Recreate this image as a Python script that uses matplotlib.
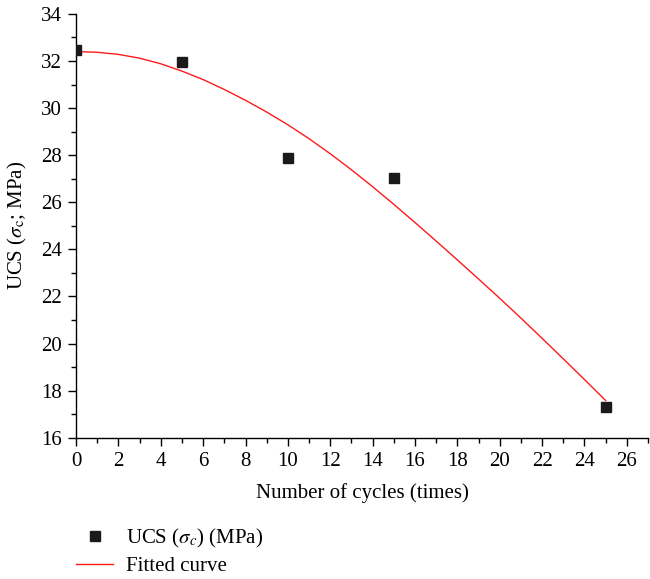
import matplotlib
matplotlib.use("Agg")
import matplotlib.pyplot as plt
from matplotlib.ticker import MultipleLocator

plt.rcParams['font.family'] = ['Liberation Serif', 'DejaVu Serif']
plt.rcParams['mathtext.fontset'] = 'stix'

# --- datos medidos ---
cycles = [0, 5, 10, 15, 25]
ucs = [32.45, 31.95, 27.9, 27.05, 17.3]

# curva ajustada
fit_x = [0, 1, 2, 3, 4, 5, 6, 7, 8, 9, 10, 11, 12, 13, 14, 15, 16, 17, 18,
         19, 20, 21, 22, 23, 24, 25]
fit_y = [32.40, 32.37, 32.28, 32.12, 31.88, 31.57, 31.21, 30.79, 30.33, 29.83,
         29.29, 28.70, 28.06, 27.38, 26.66, 25.91, 25.14, 24.35, 23.55, 22.74,
         21.92, 21.08, 20.22, 19.35, 18.47, 17.58]

fig = plt.figure(figsize=(6.5, 5.79), dpi=100)
ax = fig.add_axes([0.117, 0.244, 0.88, 0.732])

ax.plot(cycles, ucs, 's', color='#1a1a1a', markersize=7.5, label=r'UCS ($\sigma_c$) (MPa)', zorder=3)
ax.plot(fit_x, fit_y, '-', color='#ff1a1a', linewidth=1.0, label='Fitted curve')

ax.set_xlim(0, 27)
ax.set_ylim(16, 34)
ax.xaxis.set_major_locator(MultipleLocator(2))
ax.xaxis.set_minor_locator(MultipleLocator(1))
ax.yaxis.set_major_locator(MultipleLocator(2))
ax.yaxis.set_minor_locator(MultipleLocator(1))
ax.tick_params(which='major', direction='out', length=6, width=1, labelsize=15, pad=4)
ax.tick_params(which='minor', direction='out', length=3.5, width=1)

for s in ['top', 'right']:
    ax.spines[s].set_visible(False)
for s in ['left', 'bottom']:
    ax.spines[s].set_linewidth(1.0)

ax.set_xlabel('Number of cycles (times)', fontsize=15, labelpad=9)
ax.set_ylabel(r'UCS ($\sigma_{\rm c}$; MPa)', fontsize=15, labelpad=9)

fig.legend(loc='upper left', bbox_to_anchor=(0.104, 0.105), frameon=False,
           fontsize=15, handlelength=1.8, handletextpad=0.6, labelspacing=0.35,
           borderaxespad=0)

fig.savefig('out.png', dpi=100)
